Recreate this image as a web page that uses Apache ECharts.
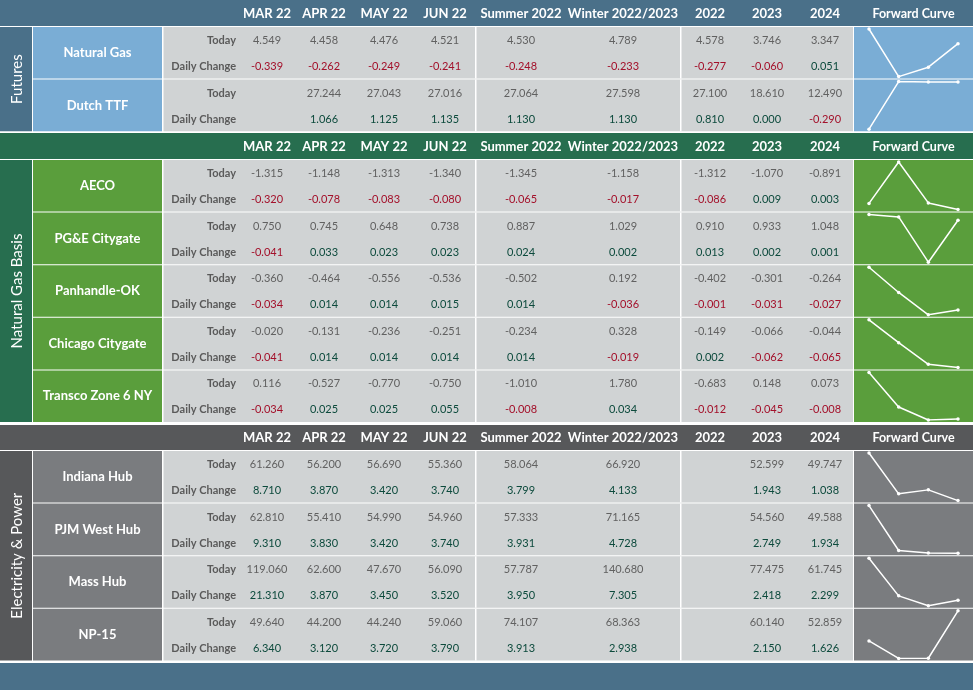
<!DOCTYPE html>
<html><head><meta charset="utf-8">
<script src="https://cdn.jsdelivr.net/npm/echarts@6/dist/echarts.min.js"></script>
<style>html,body{margin:0;padding:0;background:#fff}#c{width:975px;height:690px}</style>
</head><body><div id="c"></div>
<script>
// ---------- data ----------
const columns = ['MAR 22','APR 22','MAY 22','JUN 22','Summer 2022','Winter 2022/2023','2022','2023','2024'];
const curveMonths = ['MAR 22','APR 22','MAY 22','JUN 22'];

const naturalGasToday  = [4.549, 4.458, 4.476, 4.521, 4.530, 4.789, 4.578, 3.746, 3.347];
const naturalGasChange = [-0.339, -0.262, -0.249, -0.241, -0.248, -0.233, -0.277, -0.060, 0.051];
const dutchTTFToday    = [null, 27.244, 27.043, 27.016, 27.064, 27.598, 27.100, 18.610, 12.490];
const dutchTTFChange   = [null, 1.066, 1.125, 1.135, 1.130, 1.130, 0.810, 0.000, -0.290];

const aecoToday        = [-1.315, -1.148, -1.313, -1.340, -1.345, -1.158, -1.312, -1.070, -0.891];
const aecoChange       = [-0.320, -0.078, -0.083, -0.080, -0.065, -0.017, -0.086, 0.009, 0.003];
const pgeToday         = [0.750, 0.745, 0.648, 0.738, 0.887, 1.029, 0.910, 0.933, 1.048];
const pgeChange        = [-0.041, 0.033, 0.023, 0.023, 0.024, 0.002, 0.013, 0.002, 0.001];
const panhandleToday   = [-0.360, -0.464, -0.556, -0.536, -0.502, 0.192, -0.402, -0.301, -0.264];
const panhandleChange  = [-0.034, 0.014, 0.014, 0.015, 0.014, -0.036, -0.001, -0.031, -0.027];
const chicagoToday     = [-0.020, -0.131, -0.236, -0.251, -0.234, 0.328, -0.149, -0.066, -0.044];
const chicagoChange    = [-0.041, 0.014, 0.014, 0.014, 0.014, -0.019, 0.002, -0.062, -0.065];
const transcoToday     = [0.116, -0.527, -0.770, -0.750, -1.010, 1.780, -0.683, 0.148, 0.073];
const transcoChange    = [-0.034, 0.025, 0.025, 0.055, -0.008, 0.034, -0.012, -0.045, -0.008];

const indianaToday     = [61.260, 56.200, 56.690, 55.360, 58.064, 66.920, null, 52.599, 49.747];
const indianaChange    = [8.710, 3.870, 3.420, 3.740, 3.799, 4.133, null, 1.943, 1.038];
const pjmToday         = [62.810, 55.410, 54.990, 54.960, 57.333, 71.165, null, 54.560, 49.588];
const pjmChange        = [9.310, 3.830, 3.420, 3.740, 3.931, 4.728, null, 2.749, 1.934];
const massToday        = [119.060, 62.600, 47.670, 56.090, 57.787, 140.680, null, 77.475, 61.745];
const massChange       = [21.310, 3.870, 3.450, 3.520, 3.950, 7.305, null, 2.418, 2.299];
const np15Today        = [49.640, 44.200, 44.240, 59.060, 74.107, 68.363, null, 60.140, 52.859];
const np15Change       = [6.340, 3.120, 3.720, 3.790, 3.913, 2.938, null, 2.150, 1.626];

const sectionTitles = ['Futures', 'Natural Gas Basis', 'Electricity & Power'];
const futuresRows = [['Natural Gas', naturalGasToday, naturalGasChange], ['Dutch TTF', dutchTTFToday, dutchTTFChange]];
const basisRows = [['AECO', aecoToday, aecoChange], ['PG&E Citygate', pgeToday, pgeChange],
  ['Panhandle-OK', panhandleToday, panhandleChange], ['Chicago Citygate', chicagoToday, chicagoChange],
  ['Transco Zone 6 NY', transcoToday, transcoChange]];
const powerRows = [['Indiana Hub', indianaToday, indianaChange], ['PJM West Hub', pjmToday, pjmChange],
  ['Mass Hub', massToday, massChange], ['NP-15', np15Today, np15Change]];

// ---------- style / layout ----------
const FONT = 'Lato, "Open Sans", sans-serif';
const palettes = [
  {head: '#4a7089', cell: '#7aadd5'},
  {head: '#276e4f', cell: '#5a9e3c'},
  {head: '#57585a', cell: '#7a7c7f'}
];
const sectionRows = [futuresRows, basisRows, powerRows];
const headerTops = [0, 133, 425];
const headerH = [26, 26, 25];
const ROW_PITCH = 52.6, ROW_H = 51.6;
const colX = [267, 324, 384, 445, 521, 623, 710, 767, 825];
const X = {lab0: 0, lab1: 32, name0: 33, name1: 162, data0: 163.5, data1: 853, curve0: 854, curve1: 973};
const sepX = [475, 680];
const DATA_BG = '#d0d3d4';

const g = [];
const grids = [], xAxes = [], yAxes = [], series = [];
function rect(x, y, w, h, fill, z) { g.push({type: 'rect', z: z || 0, silent: true, shape: {x, y, width: w, height: h}, style: {fill}}); }
function text(t, x, y, fill, font, align, rot) {
  g.push({type: 'text', z: 5, silent: true, x, y, rotation: rot || 0,
    style: {text: t, fill, font, textAlign: align || 'center', textVerticalAlign: 'middle', align: align || 'center', verticalAlign: 'middle'}});
}
const fmt = v => v == null ? '' : v.toFixed(3);

sectionRows.forEach((rows, s) => {
  const pal = palettes[s];
  const hy = headerTops[s];
  rect(0, hy, X.curve1, headerH[s], pal.head);
  columns.forEach((c, j) => text(c, colX[j], hy + headerH[s] / 2 + 0.5, '#ffffff', 'bold 13px ' + FONT));
  text('Forward Curve', (X.curve0 + X.curve1) / 2, hy + headerH[s] / 2 + 0.5, '#ffffff', 'bold 12.5px ' + FONT);
  const top0 = hy + headerH[s] + 1;
  const total = rows.length * ROW_PITCH - (ROW_PITCH - ROW_H);
  rect(X.lab0, top0, X.lab1 - X.lab0, total, pal.head);
  text(sectionTitles[s], (X.lab0 + X.lab1) / 2 + 1, top0 + total / 2, '#ffffff', '15px ' + FONT, 'center', Math.PI / 2);
  rows.forEach((r, i) => {
    const ty = top0 + i * ROW_PITCH;
    rect(X.name0, ty, X.name1 - X.name0, ROW_H, pal.cell);
    rect(X.data0, ty, X.data1 - X.data0, ROW_H, DATA_BG);
    rect(X.curve0, ty, X.curve1 - X.curve0, ROW_H, pal.cell);
    sepX.forEach(sx => rect(sx, ty, 1.5, ROW_H, '#ffffff', 1));
    text(r[0], (X.name0 + X.name1) / 2, ty + ROW_H / 2, '#ffffff', 'bold 13px ' + FONT);
    text('Today', 236, ty + 13.5, '#5a5a5a', 'bold 11px ' + FONT, 'right');
    text('Daily Change', 236, ty + 39.5, '#5a5a5a', 'bold 11px ' + FONT, 'right');
    r[1].forEach((v, j) => text(fmt(v), colX[j], ty + 13.5, '#616161', '11px ' + FONT));
    r[2].forEach((v, j) => text(fmt(v), colX[j], ty + 39.5, v < 0 ? '#a3102a' : '#0c4a3c', '11px ' + FONT));
    // sparkline
    const k = grids.length;
    grids.push({left: 869, width: 89, top: ty + 2, height: ROW_H - 4, containLabel: false});
    xAxes.push({type: 'category', gridIndex: k, data: curveMonths, boundaryGap: false, show: false});
    yAxes.push({type: 'value', gridIndex: k, min: 'dataMin', max: 'dataMax', show: false, scale: true});
    series.push({type: 'line', xAxisIndex: k, yAxisIndex: k, z: 10,
      data: r[1].slice(0, 4).map(v => v == null ? 0 : v),
      symbol: 'circle', symbolSize: 3.5, showSymbol: true,
      lineStyle: {color: '#ffffff', width: 1.5}, itemStyle: {color: '#ffffff'}});
  });
});
rect(0, 663, X.curve1, 27, palettes[0].head);

const chart = echarts.init(document.getElementById('c'));
chart.setOption({
  animation: false,
  backgroundColor: '#ffffff',
  grid: grids, xAxis: xAxes, yAxis: yAxes, series: series,
  graphic: {elements: g}
});
</script></body></html>
